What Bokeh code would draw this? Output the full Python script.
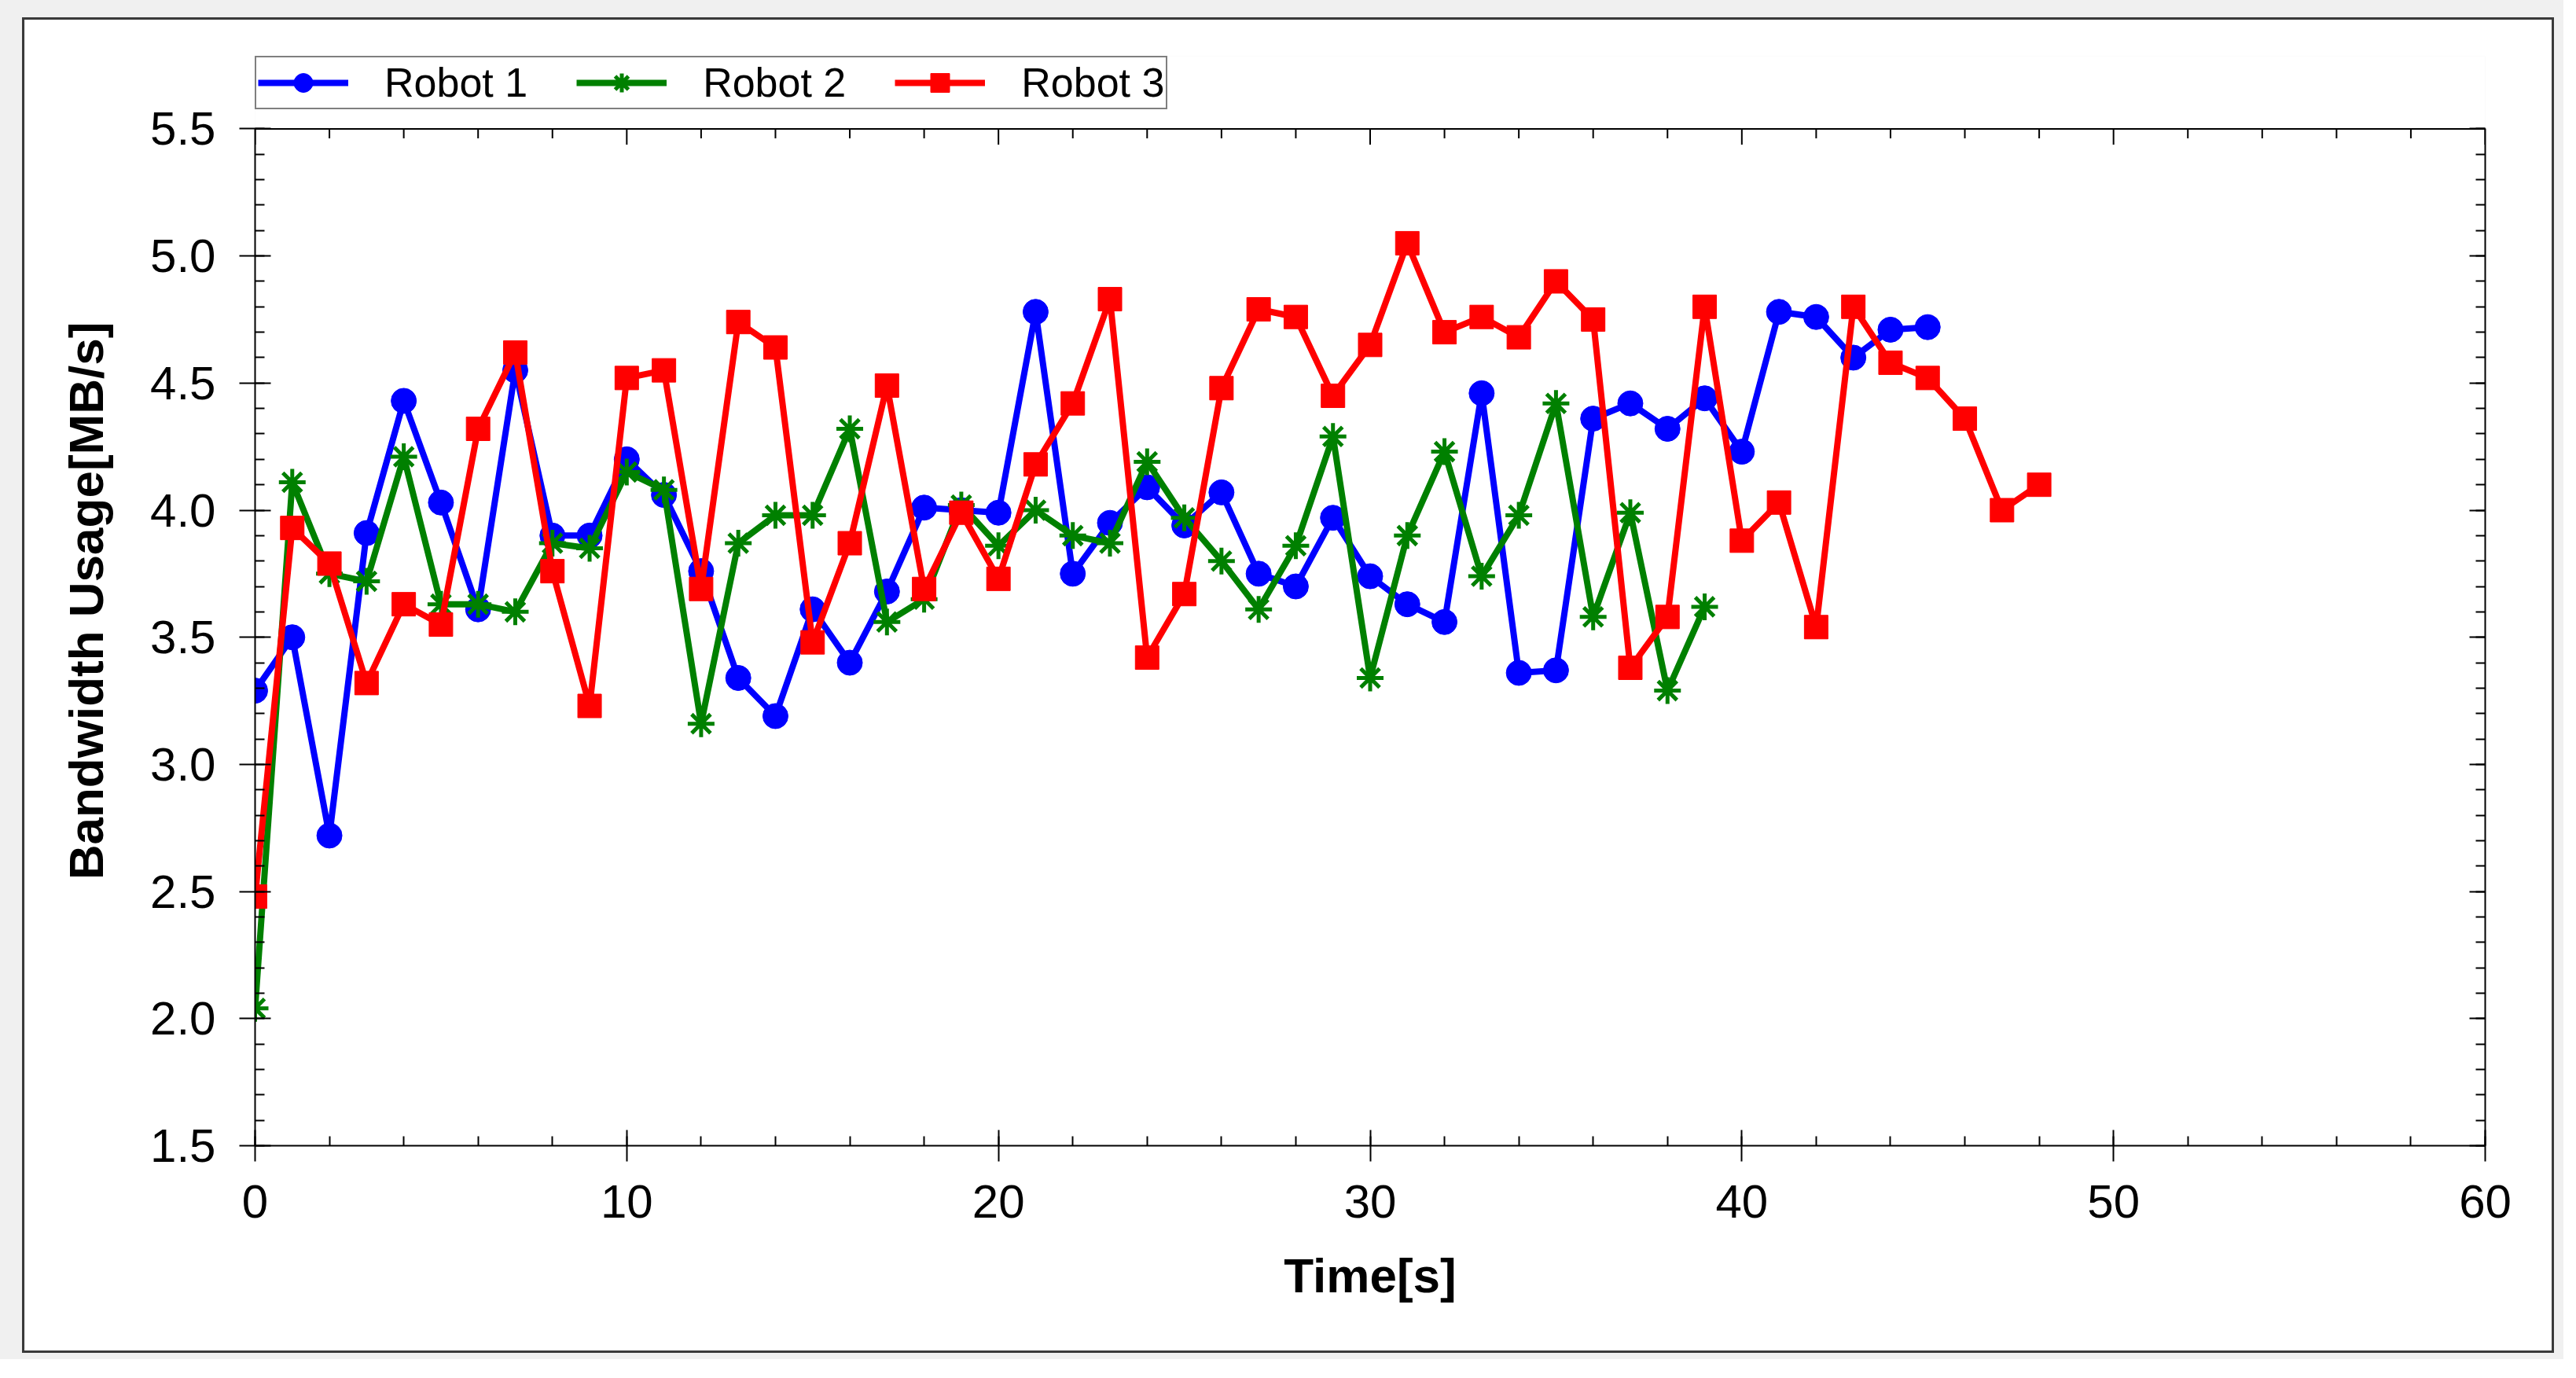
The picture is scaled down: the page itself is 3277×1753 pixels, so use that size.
from bokeh.plotting import figure
from bokeh.models import (LinearAxis, SingleIntervalTicker, Range1d, Legend, LegendItem,
                          PrintfTickFormatter, Span)
from bokeh.layouts import column
from bokeh.embed import file_html
from bokeh.resources import INLINE

robot1_x = list(range(0, 46))
robot1_y = [3.29, 3.50, 2.72, 3.91, 4.43, 4.03, 3.61, 4.55, 3.90, 3.90,
            4.20, 4.06, 3.76, 3.34, 3.19, 3.61, 3.40, 3.68, 4.01, 4.00,
            3.99, 4.78, 3.75, 3.95, 4.09, 3.94, 4.07, 3.75, 3.70, 3.97,
            3.74, 3.63, 3.56, 4.46, 3.36, 3.37, 4.36, 4.42, 4.32, 4.44,
            4.23, 4.78, 4.76, 4.60, 4.71, 4.72]

robot2_x = list(range(0, 40))
robot2_y = [2.04, 4.11, 3.75, 3.72, 4.21, 3.63, 3.63, 3.60, 3.87, 3.85,
            4.15, 4.08, 3.16, 3.87, 3.98, 3.98, 4.32, 3.56, 3.65, 4.02,
            3.86, 4.00, 3.90, 3.87, 4.19, 3.97, 3.80, 3.61, 3.86, 4.29,
            3.34, 3.90, 4.23, 3.74, 3.98, 4.42, 3.58, 3.99, 3.29, 3.62]

robot3_x = list(range(0, 49))
robot3_y = [2.48, 3.93, 3.79, 3.32, 3.63, 3.55, 4.32, 4.62, 3.76, 3.23,
            4.52, 4.55, 3.69, 4.74, 4.64, 3.48, 3.87, 4.49, 3.69, 3.99,
            3.73, 4.18, 4.42, 4.83, 3.42, 3.67, 4.48, 4.79, 4.76, 4.45,
            4.65, 5.05, 4.70, 4.76, 4.68, 4.90, 4.75, 3.38, 3.58, 4.80,
            3.88, 4.03, 3.54, 4.80, 4.58, 4.52, 4.36, 4.00, 4.10]

series_names = ["Robot 1", "Robot 2", "Robot 3"]
x_label = "Time[s]"
y_label = "Bandwidth Usage[MB/s]"

X_MIN, X_MAX = 0, 60
Y_MIN, Y_MAX = 1.5, 5.5

FONT = "Liberation Sans"

# plot box is BOX_H px tall for Y_MIN..Y_MAX; the frame extends EXTRA px higher to hold the legend
BOX_H = 1288
EXTRA = 92
PX = (Y_MAX - Y_MIN) / BOX_H
y_top = Y_MAX + EXTRA * PX

p = figure(frame_width=2831, frame_height=BOX_H + EXTRA, output_backend="svg",
           toolbar_location=None,
           x_range=Range1d(X_MIN, X_MAX), y_range=Range1d(Y_MIN, y_top),
           min_border_left=293, min_border_right=91, min_border_top=46,
           min_border_bottom=267, x_axis_location=None, y_axis_location=None)
p.xgrid.visible = False
p.ygrid.visible = False
p.outline_line_color = None
p.background_fill_color = "white"
p.border_fill_color = "white"


def make_axis(kind, labels):
    if kind == "x":
        ax = LinearAxis(ticker=SingleIntervalTicker(interval=10, num_minor_ticks=5))
    else:
        ax = LinearAxis(ticker=SingleIntervalTicker(interval=0.5, num_minor_ticks=5),
                        formatter=PrintfTickFormatter(format="%.1f"),
                        bounds=(Y_MIN, Y_MAX))
    ax.axis_line_color = "black"
    ax.axis_line_width = 2
    ax.major_tick_line_color = "black"
    ax.major_tick_line_width = 2
    ax.minor_tick_line_color = "black"
    ax.minor_tick_line_width = 2
    ax.minor_tick_in = 12
    ax.minor_tick_out = 0
    if labels:
        ax.major_tick_in = 20
        ax.major_tick_out = 20
        ax.major_label_text_font = FONT
        ax.major_label_text_font_size = "60px"
        ax.major_label_text_color = "black"
        ax.major_label_standoff = 30
        ax.axis_label_text_font = FONT
        ax.axis_label_text_font_style = "bold"
        ax.axis_label_text_font_size = "62px"
        ax.axis_label_text_color = "black"
    else:
        ax.major_tick_in = 20
        ax.major_tick_out = 0
        ax.major_label_text_font_size = "0px"
        ax.major_label_text_alpha = 0
        ax.major_label_standoff = 0
    return ax


xb = make_axis("x", True)
xb.axis_label = x_label
xb.axis_label_standoff = 36
yl = make_axis("y", True)
yl.axis_label = y_label
yl.axis_label_standoff = 44
yr = make_axis("y", False)
p.add_layout(xb, "below")
p.add_layout(yl, "left")
p.add_layout(yr, "right")

# top edge of the plot box with inward ticks
p.add_layout(Span(location=Y_MAX, dimension="width", line_color="black", line_width=2))
top_major = list(range(X_MIN, X_MAX + 1, 10))
top_minor = [t for t in range(X_MIN, X_MAX + 1, 2) if t % 10 != 0]
p.segment(x0=top_major, x1=top_major, y0=[Y_MAX] * len(top_major),
          y1=[Y_MAX - 20 * PX] * len(top_major), line_color="black", line_width=2)
p.segment(x0=top_minor, x1=top_minor, y0=[Y_MAX] * len(top_minor),
          y1=[Y_MAX - 12 * PX] * len(top_minor), line_color="black", line_width=2)

LW = 8
r1l = p.line(robot1_x, robot1_y, line_color="#0000ff", line_width=LW)
r1m = p.scatter(robot1_x, robot1_y, marker="circle", size=32, fill_color="#0000ff",
                line_color="#0000ff")
r2l = p.line(robot2_x, robot2_y, line_color="#008000", line_width=LW)
r2m = p.scatter(robot2_x, robot2_y, marker="asterisk", size=34, line_color="#008000",
                line_width=5)
r3l = p.line(robot3_x, robot3_y, line_color="#ff0000", line_width=LW)
r3m = p.scatter(robot3_x, robot3_y, marker="square", size=30, fill_color="#ff0000",
                line_color="#ff0000")

legend = Legend(items=[
    LegendItem(label=series_names[0], renderers=[r1l, r1m]),
    LegendItem(label=series_names[1], renderers=[r2l, r2m]),
    LegendItem(label=series_names[2], renderers=[r3l, r3m]),
], orientation="horizontal", location="top_left")
legend.label_text_font = FONT
legend.label_text_font_size = "52px"
legend.label_text_color = "black"
legend.glyph_width = 115
legend.glyph_height = 60
legend.label_standoff = 46
legend.spacing = 62
legend.padding = 2
legend.margin = 0
legend.border_line_color = "black"
legend.border_line_width = 2
legend.background_fill_alpha = 1
p.add_layout(legend, "center")

p.styles = {"border": "3px solid #3a3a3a"}

page = column(p, styles={"background-color": "#f0f0f0", "padding-top": "22px",
                         "padding-left": "28px", "padding-right": "12px",
                         "padding-bottom": "8px"})

open("out.html", "w").write(file_html(page, INLINE))
